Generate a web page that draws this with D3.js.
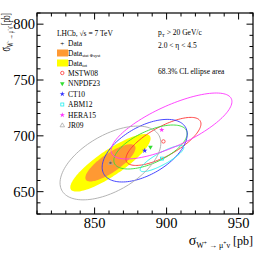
<!DOCTYPE html>
<html>
<head>
<meta charset="utf-8">
<script src="https://cdnjs.cloudflare.com/ajax/libs/d3/7.8.5/d3.min.js"></script>
<style>
  body { margin: 0; background: #fff; }
  text { font-family: "Liberation Serif", "DejaVu Serif", serif; }
</style>
</head>
<body>
<div id="chart"></div>
<script>
// LHCb W+ vs W- cross sections, 68.3% CL ellipses

// Datos medidos
var dataWp = 861.0;
var dataWm = 675.8;
// stat+syst ellipse: sigma W+, sigma W-, correlation
var statSyst = [11.5, 11.0, 0.80];
// total ellipse
var totUnc = [18.4, 17.0, 0.85];

// Predicciones (PDF sets)
var pdfNames = ["MSTW08", "NNPDF23", "CT10", "ABM12", "HERA15", "JR09"];
var pdfWp = [897.8, 888.8, 884.8, 896.8, 896.6, 861.0];
var pdfWm = [695.0, 690.0, 686.7, 679.6, 705.4, 675.7];
// ellipse centres (HERA15 uncertainties are asymmetric)
var ellWp = [897.8, 888.8, 884.8, 896.8, 903.4, 861.0];
var ellWm = [695.0, 690.0, 686.7, 679.6, 708.8, 675.7];
var sigWp = [17.2, 16.8, 19.5, 10.0, 27.7, 23.1];
var sigWm = [14.2, 13.0, 18.5, 7.7, 19.5, 21.8];
var rhoPdf = [0.73, 0.61, 0.53, 0.85, 0.74, 0.54];
var pdfColors = ["#f33", "#3d3", "#33f", "#2ee", "#f3f", "#aaa"];

// ticks
var xTicks = [850, 900, 950];
var yTicks = [650, 700, 750, 800];

var width = 266, height = 255;
var pLeft = 37, pRight = 253, pTop = 13, pBottom = 214;

var svg = d3.select("#chart").append("svg")
  .attr("width", width)
  .attr("height", height);

var xScale = d3.scaleLinear().domain([810, 960]).range([pLeft, pRight]);
var yScale = d3.scaleLinear().domain([630, 810]).range([pBottom, pTop]);

// 68.3% CL for 2 dof
var k = Math.sqrt(2.2957);

function ellipse(cx, cy, sx, sy, rho) {
  var pts = [];
  for (var i = 0; i < 120; i++) {
    var t = 2 * Math.PI * i / 120;
    pts.push([
      xScale(cx + k * sx * Math.cos(t)),
      yScale(cy + k * sy * (rho * Math.cos(t) + Math.sqrt(1 - rho * rho) * Math.sin(t)))
    ]);
  }
  return d3.line().curve(d3.curveLinearClosed)(pts);
}

var plot = svg.append("g");

// fills
plot.append("path")
  .attr("d", ellipse(dataWp, dataWm, totUnc[0], totUnc[1], totUnc[2]))
  .attr("fill", "#ff0");
plot.append("path")
  .attr("d", ellipse(dataWp, dataWm, statSyst[0], statSyst[1], statSyst[2]))
  .attr("fill", "#f93");

// PDF ellipses
pdfNames.forEach(function(n, i) {
  plot.append("path")
    .attr("d", ellipse(ellWp[i], ellWm[i], sigWp[i], sigWm[i], rhoPdf[i]))
    .attr("fill", "none")
    .attr("stroke", pdfColors[i])
    .attr("stroke-width", 0.9);
});

// markers
function marker(g, i, x, y) {
  var c = pdfColors[i];
  if (i === 0) {
    g.append("circle").attr("cx", x).attr("cy", y).attr("r", 1.7)
      .attr("fill", "none").attr("stroke", c).attr("stroke-width", 0.8);
  } else if (i === 1) {
    g.append("path").attr("d", d3.symbol(d3.symbolTriangle, 9)())
      .attr("transform", "translate(" + x + "," + y + ") rotate(180)")
      .attr("fill", c);
  } else if (i === 2) {
    g.append("path").attr("d", d3.symbol(d3.symbolStar, 9)())
      .attr("transform", "translate(" + x + "," + y + ")")
      .attr("fill", c);
  } else if (i === 3) {
    g.append("rect").attr("x", x - 1.5).attr("y", y - 1.5)
      .attr("width", 3).attr("height", 3)
      .attr("fill", "none").attr("stroke", c).attr("stroke-width", 0.8);
  } else if (i === 4) {
    g.append("path").attr("d", d3.symbol(d3.symbolStar, 9)())
      .attr("transform", "translate(" + x + "," + y + ")")
      .attr("fill", c);
  } else {
    g.append("path").attr("d", d3.symbol(d3.symbolTriangle, 9)())
      .attr("transform", "translate(" + x + "," + y + ")")
      .attr("fill", "none").attr("stroke", c).attr("stroke-width", 0.8);
  }
}

pdfNames.forEach(function(n, i) {
  marker(plot, i, xScale(pdfWp[i]), yScale(pdfWm[i]));
});

// data point
plot.append("circle")
  .attr("cx", xScale(dataWp)).attr("cy", yScale(dataWm)).attr("r", 1.2)
  .attr("fill", "#666");

// axes
var minorX = d3.range(810, 961, 10);
var minorY = d3.range(630, 811, 10);
var axes = svg.append("g").attr("stroke", "#000").attr("stroke-width", 1);

minorX.forEach(function(v) {
  var len = xTicks.indexOf(v) >= 0 ? 6.5 : 3.5;
  axes.append("line").attr("x1", xScale(v)).attr("x2", xScale(v))
    .attr("y1", pBottom).attr("y2", pBottom - len);
  axes.append("line").attr("x1", xScale(v)).attr("x2", xScale(v))
    .attr("y1", pTop).attr("y2", pTop + len);
});
minorY.forEach(function(v) {
  var len = yTicks.indexOf(v) >= 0 ? 6.5 : 3.5;
  axes.append("line").attr("y1", yScale(v)).attr("y2", yScale(v))
    .attr("x1", pLeft).attr("x2", pLeft + len);
  axes.append("line").attr("y1", yScale(v)).attr("y2", yScale(v))
    .attr("x1", pRight).attr("x2", pRight - len);
});

svg.append("rect")
  .attr("x", pLeft).attr("y", pTop)
  .attr("width", pRight - pLeft).attr("height", pBottom - pTop)
  .attr("fill", "none").attr("stroke", "#000").attr("stroke-width", 1.2);

// tick labels
xTicks.forEach(function(v) {
  svg.append("text").attr("x", xScale(v)).attr("y", 228)
    .attr("text-anchor", "middle").attr("font-size", 14.5).text(v);
});
yTicks.forEach(function(v) {
  svg.append("text").attr("x", 35).attr("y", yScale(v)).attr("dy", "0.35em")
    .attr("text-anchor", "end").attr("font-size", 14.5).text(v);
});

// axis titles
var xt = svg.append("text").attr("x", 253).attr("y", 245)
  .attr("text-anchor", "end").attr("font-size", 14);
xt.append("tspan").text("σ");
xt.append("tspan").attr("font-size", 8).attr("dy", 3).text("W");
xt.append("tspan").attr("font-size", 5.5).attr("dy", -3.5).text("+");
xt.append("tspan").attr("font-size", 8).attr("dy", 3.5).text(" → μ");
xt.append("tspan").attr("font-size", 5.5).attr("dy", -3.5).text("+");
xt.append("tspan").attr("font-size", 8).attr("dy", 3.5).text("ν");
xt.append("tspan").attr("font-size", 12).attr("dy", -3).text(" [pb]");

// y title is squeezed along its length in the reference
var yt = svg.append("text")
  .attr("transform", "translate(10," + pTop + ") rotate(-90) scale(0.6,1)")
  .attr("text-anchor", "end").attr("font-size", 14);
yt.append("tspan").text("σ");
yt.append("tspan").attr("font-size", 8).attr("dy", 3).text("W");
yt.append("tspan").attr("font-size", 5.5).attr("dy", -3.5).text("−");
yt.append("tspan").attr("font-size", 8).attr("dy", 3.5).text(" → μ");
yt.append("tspan").attr("font-size", 5.5).attr("dy", -3.5).text("−");
yt.append("tspan").attr("font-size", 8).attr("dy", 3.5).text("ν\u0304");
yt.append("tspan").attr("font-size", 12).attr("dy", -3).text(" [pb]");

// legend
var fs = 7.5;
var lx = 57, tx = 68;
svg.append("text").attr("x", lx).attr("y", 36).attr("font-size", fs)
  .text("LHCb, √s = 7 TeV");
var legY = [43.5, 53, 63, 73, 83.5, 94, 104.5, 115, 125.5];

svg.append("text").attr("x", 62.3).attr("y", legY[0]).attr("dy", "0.35em")
  .attr("text-anchor", "middle").attr("font-size", 7).text("+");
svg.append("text").attr("x", tx).attr("y", legY[0]).attr("dy", "0.35em")
  .attr("font-size", fs).text("Data");

svg.append("rect").attr("x", 57).attr("y", legY[1] - 3.5)
  .attr("width", 11).attr("height", 7).attr("fill", "#f93");
var t1 = svg.append("text").attr("x", tx).attr("y", legY[1]).attr("dy", "0.35em")
  .attr("font-size", fs);
t1.append("tspan").text("Data");
t1.append("tspan").attr("font-size", 4.5).attr("dy", 1.5).text("stat ⊕syst");

svg.append("rect").attr("x", 57).attr("y", legY[2] - 3.5)
  .attr("width", 11).attr("height", 7).attr("fill", "#ff0");
var t2 = svg.append("text").attr("x", tx).attr("y", legY[2]).attr("dy", "0.35em")
  .attr("font-size", fs);
t2.append("tspan").text("Data");
t2.append("tspan").attr("font-size", 4.5).attr("dy", 1.5).text("tot");

pdfNames.forEach(function(n, i) {
  marker(svg, i, 62.3, legY[i + 3]);
  svg.append("text").attr("x", tx).attr("y", legY[i + 3]).attr("dy", "0.35em")
    .attr("font-size", fs).text(n);
});

// kinematic text
var kx = 158;
var p = svg.append("text").attr("x", kx).attr("y", 35).attr("font-size", fs);
p.append("tspan").text("p");
p.append("tspan").attr("font-size", 5).attr("dy", 1.5).text("T");
p.append("tspan").attr("dy", -1.5).text(" > 20 GeV/c");
svg.append("text").attr("x", kx).attr("y", 48).attr("font-size", fs)
  .text("2.0 < η < 4.5");
svg.append("text").attr("x", kx).attr("y", 74).attr("font-size", fs)
  .text("68.3% CL ellipse area");
</script>
</body>
</html>
